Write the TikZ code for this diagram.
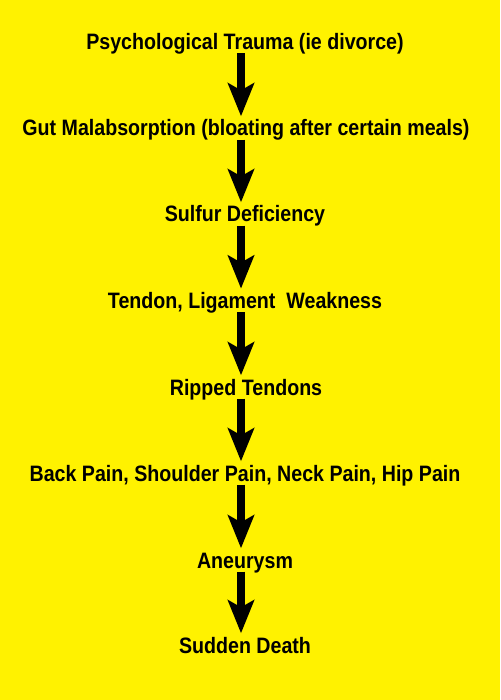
\documentclass[tikz,border=0pt]{standalone}
\usepackage{fontspec}
\newfontfamily\flowfont[FakeStretch=0.88]{Liberation Sans}
\usetikzlibrary{arrows.meta}
\tikzstyle{cause}=[font=\flowfont\bfseries\fontsize{22.3}{26}\selectfont, inner sep=0pt, text height=16pt, text depth=0pt, anchor=base]
\tikzstyle{link}=[draw, line width=8pt, -{Stealth[length=33pt,width=26pt,inset=7pt]}, shorten <=3.5pt, shorten >=3.5pt]

\begin{document}
\begin{tikzpicture}
		[x=1pt,y=1pt]
		\fill[yellow] (0,0) rectangle (500,-700);
		\node[cause] (a1) at (245,-49.5) {Psychological Trauma (ie divorce)};
		\node[cause] (a2) at (246,-136) {Gut Malabsorption (bloating after certain meals)};
		\node[cause] (a3) at (245,-222) {Sulfur Deficiency};
		\node[cause] (a4) at (245,-308.3) {Tendon, Ligament~ Weakness};
		\node[cause] (a5) at (246,-395) {Ripped Tendons};
		\node[cause] (a6) at (245,-481) {Back Pain, Shoulder Pain, Neck Pain, Hip Pain};
		\node[cause] (a7) at (245,-568) {Aneurysm};
		\node[cause] (a8) at (245,-653) {Sudden Death};
		
		\draw[link] (241,0 |- a1.south) -- (241,0 |- a2.north);
		\draw[link] (241,0 |- a2.south) -- (241,0 |- a3.north);
		\draw[link] (241,0 |- a3.south) -- (241,0 |- a4.north);
		\draw[link] (241,0 |- a4.south) -- (241,0 |- a5.north);
		\draw[link] (241,0 |- a5.south) -- (241,0 |- a6.north);
		\draw[link] (241,0 |- a6.south) -- (241,0 |- a7.north);
		\draw[link] (241,0 |- a7.south) -- (241,0 |- a8.north);
		
		\end{tikzpicture}
\end{document}
